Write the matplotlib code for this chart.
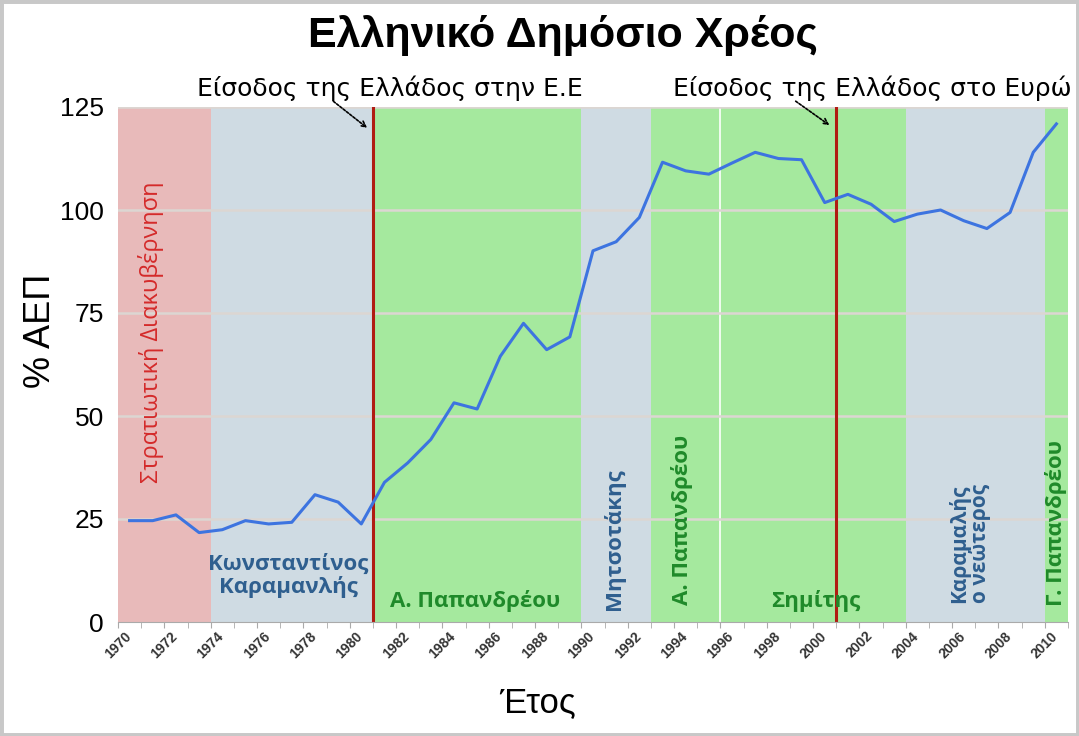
import numpy as np
import matplotlib
matplotlib.use("Agg")
import matplotlib.pyplot as plt
from matplotlib import font_manager as fm
from matplotlib.patches import Rectangle

years = list(range(1970, 2011))
debt = [24.6, 24.6, 26.0, 21.7, 22.4, 24.6, 23.8, 24.2, 30.9, 29.1,
        23.8, 33.9, 38.6, 44.3, 53.2, 51.7, 64.5, 72.5, 66.1, 69.2,
        90.1, 92.3, 98.2, 111.6, 109.5, 108.7, 111.4, 114.0, 112.5, 112.2,
        101.8, 103.8, 101.4, 97.2, 99.0, 100.0, 97.4, 95.5, 99.4, 114.0, 120.9]

period_start = [1970, 1974, 1981, 1990, 1993, 1996, 2004, 2010]
period_end = [1974, 1981, 1990, 1993, 1996, 2004, 2010, 2011]
period_kind = ['junta', 'nd', 'pasok', 'nd', 'pasok', 'pasok', 'nd', 'pasok']
kind_color = {'junta': '#e8baba', 'nd': '#cfdbe3', 'pasok': '#a5e99e'}
kind_text = {'junta': '#d42a2a', 'nd': '#2f5f8f', 'pasok': '#1f8a2a'}

events_year = [1981, 2001]
events_label = ['Είσοδος της Ελλάδος στην Ε.Ε', 'Είσοδος της Ελλάδος στο Ευρώ']

yticks = [0, 25, 50, 75, 100, 125]
xticks = list(range(1970, 2011, 2))

names = {f.name for f in fm.fontManager.ttflist}
narrow = 'DejaVu Sans'
for cand in ['Liberation Sans Narrow', 'DejaVu Sans Condensed']:
    if cand in names:
        narrow = cand
        break
lab_font = ['Open Sans', 'DejaVu Sans']
base = ['Liberation Sans', 'DejaVu Sans']
plt.rcParams['font.family'] = base

fig = plt.figure(figsize=(10.79, 7.36), dpi=100)
ax = fig.add_axes([118/1079, 114/736, 950/1079, 515/736])

for s, e, k in zip(period_start, period_end, period_kind):
    ax.axvspan(s, e, color=kind_color[k], zorder=0, lw=0)
# small white gap between two consecutive pasok bands
ax.axvline(1996, color='white', lw=1.2, zorder=0.5)

for yv in yticks[1:]:
    ax.axhline(yv, color='#dcd6d2', lw=1.8, zorder=1)

for ey in events_year:
    ax.axvline(ey, color='#b01c12', lw=2.2, zorder=2)

x = np.array(years) + 0.5
ax.plot(x, debt, color='#3d74e0', lw=2.2, zorder=3)

ax.set_xlim(1970, 2011)
ax.set_ylim(0, 125)
ax.set_yticks(yticks)
ax.set_yticklabels([str(v) for v in yticks], fontsize=19)
ax.set_xticks(xticks)
ax.set_xticklabels([str(v) for v in xticks], rotation=45, fontsize=10,
                   fontweight='bold', color='#333333', ha='center', va='top')
ax.set_xticks(range(1970, 2012), minor=True)
ax.tick_params(axis='y', length=0, pad=10)
ax.tick_params(axis='x', which='both', length=4, color='#aaaaaa', pad=1)
for sp in ['top', 'right', 'left']:
    ax.spines[sp].set_visible(False)
ax.spines['bottom'].set_color('#aaaaaa')

ax.set_ylabel('% ΑΕΠ', fontsize=26)
ax.yaxis.set_label_coords(-0.063, 0.565)
ax.set_xlabel('Έτος', fontsize=25)
ax.xaxis.set_label_coords(0.442, -0.125)

# period labels
tk = dict(family=lab_font, fontweight='bold', zorder=4)
ax.text(1971.43, 70.3, 'Στρατιωτική Διακυβέρνηση', rotation=90, ha='center', va='center',
        color=kind_text['junta'], fontsize=17, family=lab_font, fontweight='normal', zorder=4)
ax.text(1977.35, 11.2, 'Κωνσταντίνος\nΚαραμανλής', ha='center', va='center',
        color=kind_text['nd'], fontsize=16, linespacing=1.1, **tk)
ax.text(1985.4, 5.2, 'Α. Παπανδρέου', ha='center', va='center',
        color=kind_text['pasok'], fontsize=16, **tk)
ax.text(1991.4, 20, 'Μητσοτάκης', rotation=90, ha='center', va='center',
        color=kind_text['nd'], fontsize=16, **tk)
ax.text(1994.35, 24.8, 'Α. Παπανδρέου', rotation=90, ha='center', va='center',
        color=kind_text['pasok'], fontsize=16, **tk)
ax.text(2000.1, 5.2, 'Σημίτης', ha='center', va='center',
        color=kind_text['pasok'], fontsize=16, **tk)
ax.text(2006.75, 19, 'Καραμαλής\nο νεώτερος', rotation=90, ha='center', va='center',
        color=kind_text['nd'], fontsize=15, linespacing=0.95, **tk)
ax.text(2010.5, 24, 'Γ. Παπανδρέου', rotation=90, ha='center', va='center',
        color=kind_text['pasok'], fontsize=16, **tk)

# event annotations
fs_ev = 18 if narrow == 'DejaVu Sans' else 20
fig.text(390/1079, 1 - 88/736, events_label[0], ha='center', va='center',
         fontsize=fs_ev, family=[narrow, 'DejaVu Sans'])
fig.text(872/1079, 1 - 88/736, events_label[1], ha='center', va='center',
         fontsize=fs_ev, family=[narrow, 'DejaVu Sans'])
arrow_props = dict(arrowstyle='->', color='black', lw=1.2, linestyle=(0, (1.5, 1)),
                   mutation_scale=10)
ax.annotate('', xy=(events_year[0] - 0.15, 119.5), xytext=(events_year[0] - 1.8, 126.8),
            arrowprops=arrow_props, annotation_clip=False)
ax.annotate('', xy=(events_year[1] - 0.2, 120.2), xytext=(events_year[1] - 1.85, 126.8),
            arrowprops=arrow_props, annotation_clip=False)

fig.text(563/1079, 1 - 36/736, 'Ελληνικό Δημόσιο Χρέος', ha='center', va='center',
         fontsize=31, fontweight='bold')

fig.patches.append(Rectangle((0, 0), 1, 1, transform=fig.transFigure, fill=False,
                             edgecolor='#c8c8c8', lw=5))

fig.savefig('out.png', dpi=100)
